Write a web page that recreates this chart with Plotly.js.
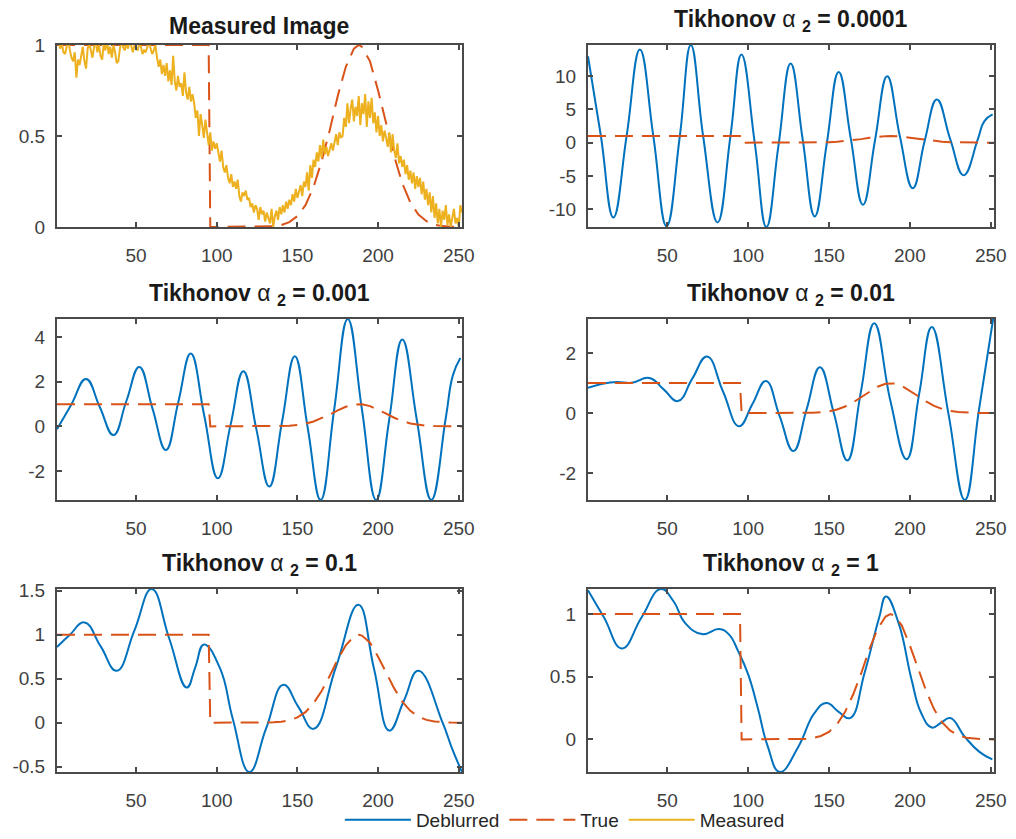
<!DOCTYPE html>
<html>
<head>
<meta charset="utf-8">
<script src="https://cdn.plot.ly/plotly-3.0.1.min.js"></script>
<style>html,body{margin:0;padding:0;background:#fff}#chart{width:1016px;height:839px}</style>
</head>
<body>
<div id="chart"></div>
<script>
// Measured (blurred + noisy) signal, one sample per pixel index 1..252
const measuredY = [
  1.00, 1.02, 0.98, 1.01, 0.96, 0.95, 0.99, 1.03, 0.97, 0.93,
  0.91, 0.96, 0.82, 0.92, 0.89, 0.95, 0.99, 0.91, 0.87, 0.98,
  1.01, 0.97, 0.93, 0.99, 1.02, 0.96, 1.00, 0.94, 0.92, 1.01,
  0.97, 1.03, 0.95, 0.99, 0.93, 1.00, 0.96, 0.90, 0.91, 0.98,
  1.02, 0.99, 0.97, 1.01, 0.98, 1.03, 0.99, 0.96, 1.00, 0.98,
  0.97, 1.01, 0.99, 0.95, 0.97, 0.96, 0.99, 1.02, 0.98, 0.95,
  0.97, 1.00, 0.93, 0.88, 0.92, 0.84, 0.89, 0.83, 0.90, 0.80,
  0.86, 0.78, 0.94, 0.80, 0.75, 0.83, 0.77, 0.79, 0.72, 0.85,
  0.74, 0.70, 0.77, 0.69, 0.73, 0.68, 0.60, 0.64, 0.50, 0.62,
  0.56, 0.49, 0.59, 0.53, 0.45, 0.52, 0.42, 0.47, 0.43, 0.46,
  0.40, 0.36, 0.42, 0.33, 0.30, 0.34, 0.27, 0.24, 0.29, 0.22,
  0.25, 0.21, 0.26, 0.17, 0.14, 0.19, 0.17, 0.20, 0.15, 0.16,
  0.11, 0.13, 0.08, 0.12, 0.10, 0.04, 0.11, 0.07, 0.09, 0.03,
  0.08, 0.05, 0.02, 0.10, 0.00, 0.06, 0.09, 0.04, 0.11, 0.07,
  0.12, 0.08, 0.14, 0.10, 0.15, 0.12, 0.18, 0.14, 0.21, 0.16,
  0.19, 0.23, 0.17, 0.25, 0.22, 0.30, 0.20, 0.34, 0.27, 0.37,
  0.33, 0.41, 0.36, 0.45, 0.38, 0.48, 0.40, 0.44, 0.39, 0.43,
  0.46, 0.42, 0.47, 0.51, 0.45, 0.52, 0.49, 0.50, 0.60, 0.55,
  0.68, 0.57, 0.65, 0.70, 0.58, 0.66, 0.61, 0.72, 0.56, 0.68,
  0.62, 0.73, 0.55, 0.69, 0.60, 0.71, 0.57, 0.63, 0.52, 0.61,
  0.50, 0.56, 0.47, 0.53, 0.49, 0.44, 0.52, 0.41, 0.51, 0.42,
  0.38, 0.46, 0.35, 0.39, 0.33, 0.37, 0.29, 0.34, 0.26, 0.31,
  0.24, 0.30, 0.21, 0.28, 0.22, 0.27, 0.18, 0.25, 0.15, 0.21,
  0.12, 0.19, 0.08, 0.17, 0.05, 0.13, 0.02, 0.10, 0.00, 0.09,
  0.04, 0.12, 0.01, 0.07, 0.00, 0.06, 0.10, 0.02, 0.05, 0.00,
  0.12, 0.08
];
const measuredX = measuredY.map((_, i) => i + 1);

// True signal: a step down at 95 followed by a smooth bump near 188
const trueX = [1, 10, 20, 30, 40, 50, 60, 70, 80, 90, 95, 96, 100, 110, 120, 130, 135, 140, 145, 150, 155, 160,
  165, 170, 175, 180, 185, 188, 190, 195, 200, 205, 210, 215, 220, 225, 230, 235, 240, 245, 252];
const trueY = [1, 1, 1, 1, 1, 1, 1, 1, 1, 1, 1, 0, 0, 0, 0, 0, 0.004, 0.011, 0.027, 0.06, 0.12, 0.22,
  0.36, 0.53, 0.72, 0.88, 0.98, 1.0, 0.99, 0.91, 0.75, 0.57, 0.39, 0.24, 0.135, 0.069, 0.032, 0.013, 0.005, 0.002, 0];

// Deblurred reconstructions, one per regularisation weight
// (turning points and mid-swing points of each oscillation)
const alphas = ['0.0001', '0.001', '0.01', '0.1', '1'];

const deb1X = [1, 9, 16.7, 24.9, 33.1, 41.4, 49.6, 57.8, 64.6, 72.2, 81.1, 89.1, 95.9, 104.1, 111.3, 118.8, 126.3,
  133.8, 141.2, 148.6, 156, 163.5, 171, 178.5, 186, 193.8, 201.8, 209.2, 216.7, 225, 233.3, 242, 246.1, 251.2];
const deb1Y = [13.0, 1.0, -11.25, 1.0, 14.0, 1.0, -12.6, 1.0, 14.7, 1.0, -12.0, 1.0, 13.25, 0.0, -12.7, -0.4, 11.9,
  0.4, -11.1, -0.2, 10.65, 0.6, -9.35, 0.4, 10.0, 1.0, -6.85, 0.3, 6.5, 0.5, -4.9, 0.5, 3.25, 4.25];

const deb2X = [1, 10, 19, 27.5, 36, 44, 52, 60.2, 68.5, 76.2, 83.9, 92.3, 100.7, 108.6, 116.5, 124.5, 132.6,
  140.5, 148.4, 156.4, 164.4, 172.8, 181.2, 190, 198.8, 206.9, 215, 224, 233, 242, 246.4, 251];
const deb2Y = [-0.13, 1.0, 2.13, 0.87, -0.39, 1.14, 2.67, 0.8, -1.06, 1.1, 3.27, 0.47, -2.33, 0.08, 2.48, -0.1, -2.7,
  0.22, 3.15, -0.07, -3.3, 0.76, 4.82, 0.76, -3.3, 0.3, 3.9, 0.3, -3.3, 0.4, 2.3, 3.07];

const deb3X = [1, 10, 19, 28, 39, 47.8, 56.6, 65.5, 74.6, 84.5, 94.4, 102.7, 111, 119.5, 128, 136.2, 144.4, 153, 161.4, 169.7,
  178, 188, 198, 205.8, 213.6, 223.8, 234, 242.7, 251.5];
const deb3Y = [0.84, 0.98, 1.04, 1.01, 1.17, 0.79, 0.4, 1.15, 1.89, 0.72, -0.44, 0.3, 1.07, -0.1, -1.27, 0.13, 1.53, 0.0, -1.58, 0.7,
  3.0, 0.4, -1.54, 0.65, 2.87, 0.0, -2.9, 0.1, 3.14];

const deb4X = [1, 9, 18, 28, 38, 49, 59.7, 70.5, 81.4, 86.7, 92.1, 102, 110, 120.2, 130.7, 141.3, 150.6, 160,
  174, 187.8, 197.4, 207, 216, 225, 240, 246, 252];
const deb4Y = [0.86, 1.0, 1.14, 0.87, 0.59, 1.05, 1.52, 0.96, 0.40, 0.63, 0.89, 0.62, 0.04, -0.56, -0.06, 0.43, 0.18, -0.07,
  0.64, 1.34, 0.62, -0.09, 0.25, 0.59, 0.0, -0.3, -0.56];

const deb5X = [1, 11, 22, 34, 46, 54, 61, 71.5, 82, 88, 94, 100, 106, 112, 119.6, 131, 141, 148.5, 156, 163, 172,
  181, 185.3, 193, 201, 207, 213.6, 219, 225, 234, 243, 251];
const deb5Y = [1.19, 0.97, 0.726, 0.97, 1.2, 1.1, 0.93, 0.84, 0.88, 0.84, 0.7, 0.52, 0.25, -0.05, -0.26, -0.06, 0.21, 0.29, 0.22, 0.17, 0.53,
  0.97, 1.14, 0.93, 0.48, 0.21, 0.094, 0.13, 0.17, 0.02, -0.1, -0.16];

const debX = [deb1X, deb2X, deb3X, deb4X, deb5X];
const debY = [deb1Y, deb2Y, deb3Y, deb4Y, deb5Y];

// Axis ticks
const xTickVals = [50, 100, 150, 200, 250];
const xTickText = ['50', '100', '150', '200', '250'];
const yTickVals = [
  [0, 0.5, 1],
  [-10, -5, 0, 5, 10],
  [-2, 0, 2, 4],
  [-2, 0, 2],
  [-0.5, 0, 0.5, 1, 1.5],
  [0, 0.5, 1]
];
const yTickText = [
  ['0', '0.5', '1'],
  ['-10', '-5', '0', '5', '10'],
  ['-2', '0', '2', '4'],
  ['-2', '0', '2'],
  ['-0.5', '0', '0.5', '1', '1.5'],
  ['0', '0.5', '1']
];
const yRanges = [[0, 1], [-12.7, 14.7], [-3.3, 4.82], [-2.9, 3.14], [-0.56, 1.52], [-0.26, 1.2]];

const BLUE = '#0072BD', RED = '#D95319', YELLOW = '#EDB120';
const FONT = '"Liberation Sans", Arial, Helvetica, sans-serif';
const AX = '#4a4a4a';

// Panel grid: 3 rows x 2 columns
const colDomains = [[0.0561, 0.4547], [0.5787, 0.9783]];
const rowDomains = [[0.7294, 0.9464], [0.4041, 0.6198], [0.0799, 0.2980]];

const traces = [];
const layout = {
  width: 1016, height: 839,
  margin: {l: 0, r: 0, t: 0, b: 0},
  paper_bgcolor: '#fff', plot_bgcolor: '#fff',
  font: {family: FONT, size: 19, color: '#404040'},
  showlegend: true,
  legend: {
    orientation: 'h', x: 0.556, y: 0, xanchor: 'center', yanchor: 'bottom',
    font: {family: FONT, size: 19, color: '#262626'}, itemwidth: 66, bgcolor: 'rgba(0,0,0,0)',
    traceorder: 'normal'
  },
  annotations: []
};

function axisCommon() {
  return {
    showline: true, mirror: 'ticks', linecolor: AX, linewidth: 2,
    ticks: 'inside', ticklen: 5, tickwidth: 2, tickcolor: AX,
    showgrid: false, zeroline: false, fixedrange: true,
    tickfont: {family: FONT, size: 19, color: '#404040'}
  };
}

for (let p = 0; p < 6; p++) {
  const row = Math.floor(p / 2), col = p % 2;
  const sfx = p === 0 ? '' : String(p + 1);
  const xa = 'x' + sfx, ya = 'y' + sfx;

  layout['xaxis' + sfx] = Object.assign(axisCommon(), {
    domain: colDomains[col], anchor: ya, range: [1, 252],
    tickmode: 'array', tickvals: xTickVals, ticktext: xTickText, ticklabelstandoff: 10
  });
  layout['yaxis' + sfx] = Object.assign(axisCommon(), {
    domain: rowDomains[row], anchor: xa, range: yRanges[p],
    tickmode: 'array', tickvals: yTickVals[p], ticktext: yTickText[p], ticklabelstandoff: 6
  });

  if (p === 0) {
    traces.push({
      x: trueX, y: trueY, xaxis: xa, yaxis: ya, mode: 'lines', name: 'True',
      line: {color: RED, width: 2, dash: '18px,9px'}, legendrank: 2, showlegend: false, hoverinfo: 'skip'
    });
    traces.push({
      x: measuredX, y: measuredY, xaxis: xa, yaxis: ya, mode: 'lines', name: 'Measured',
      line: {color: YELLOW, width: 2}, legendrank: 3, showlegend: true, hoverinfo: 'skip'
    });
  } else {
    traces.push({
      x: debX[p - 1], y: debY[p - 1], xaxis: xa, yaxis: ya, mode: 'lines', name: 'Deblurred',
      line: {color: BLUE, width: 2, shape: 'spline', smoothing: 1.3}, legendrank: 1,
      showlegend: p === 1, hoverinfo: 'skip'
    });
    traces.push({
      x: trueX, y: trueY, xaxis: xa, yaxis: ya, mode: 'lines', name: 'True',
      line: {color: RED, width: 2, dash: '18px,9px'}, legendrank: 2,
      showlegend: p === 1, hoverinfo: 'skip'
    });
  }

  const cx = (colDomains[col][0] + colDomains[col][1]) / 2;
  const title = p === 0
    ? '<b>Measured Image</b>'
    : '<b>Tikhonov <span style="font-weight:normal">α</span> <sub>2</sub> = ' + alphas[p - 1] + '</b>';
  layout.annotations.push({
    text: title, xref: 'paper', yref: 'paper', x: cx, y: rowDomains[row][1],
    xanchor: 'center', yanchor: 'bottom', yshift: p === 0 ? 4 : 8, showarrow: false,
    font: {family: FONT, size: 23, color: '#1a1a1a'}
  });
}

Plotly.newPlot('chart', traces, layout, {staticPlot: true, displayModeBar: false});
</script>
</body>
</html>
